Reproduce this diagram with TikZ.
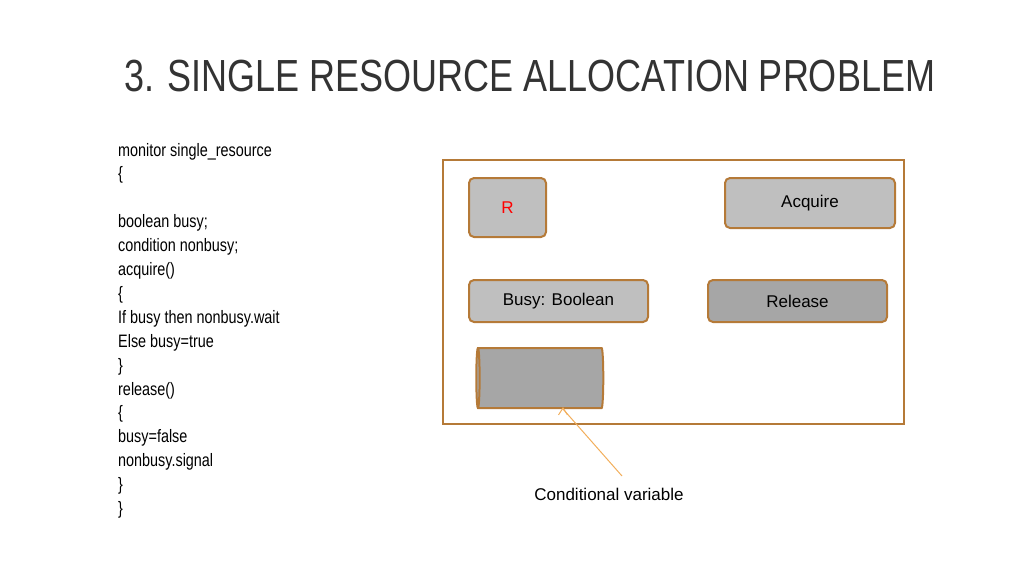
\documentclass[tikz,border=0pt]{standalone}
\usepackage{fontspec}
\setmainfont{Liberation Sans}
\newfontfamily\cond[FakeStretch=0.8]{Liberation Sans}
\usetikzlibrary{shapes.geometric,arrows.meta}
\definecolor{brn}{HTML}{B57A38}
\definecolor{lg}{HTML}{BFBFBF}
\definecolor{dg}{HTML}{A6A6A6}
\definecolor{org}{HTML}{F2AE5C}
\definecolor{ttl}{HTML}{333333}
\tikzset{box/.style={draw=brn,line width=2pt,rounded corners=5pt,fill=lg,font=\fontsize{17}{20}\selectfont},
codeline/.style={anchor=base west,font=\cond\fontsize{18}{20}\selectfont,inner sep=0pt}}
\begin{document}
\begin{tikzpicture}[x=1pt,y=-1pt]
\useasboundingbox (0,0) rectangle (1024,576);
\node[anchor=base west,inner sep=0pt,text=ttl,font=\cond\fontsize{45}{50}\selectfont] (title) at (124,91) {3. SINGLE RESOURCE ALLOCATION PROBLEM};
\foreach \t [count=\i] in {monitor single\_resource,\{,{},boolean busy;,condition nonbusy;,acquire(),\{,If busy then nonbusy.wait,Else busy=true,\},release(),\{,busy=false,nonbusy.signal,\},\}}
  \node[codeline] (c\i) at (118,{156+23.9*(\i-1)}) {\t};
\draw[brn,line width=2.5pt] (443,160) rectangle (904,424);
\node[box,minimum width=77,minimum height=59] (r) at (507.5,207.5) {\textcolor{red}{R}};
\node[box,minimum width=170,minimum height=50] (acq) at (810,203) {Acquire};
\node[box,minimum width=179,minimum height=42] (busy) at (558.5,301) {Busy: Boolean};
\node[box,fill=dg,minimum width=179,minimum height=42] (rel) at (797.5,301) {Release};
\node[draw=brn,line width=2pt,fill=dg,cylinder,shape border rotate=180,cylinder uses custom fill,cylinder body fill=dg,cylinder end fill=lg,aspect=0.5,minimum width=60,minimum height=127] (cyl) at (541.5,378) {};
\node[font=\fontsize{17}{20}\selectfont] (cv) at (609,494) {Conditional variable};
\draw[org,line width=1pt,-{Straight Barb[length=7pt,width=9pt]}] (622,476) -- (cyl.south -| 563,0) ++(0,-2);
\end{tikzpicture}
\end{document}
